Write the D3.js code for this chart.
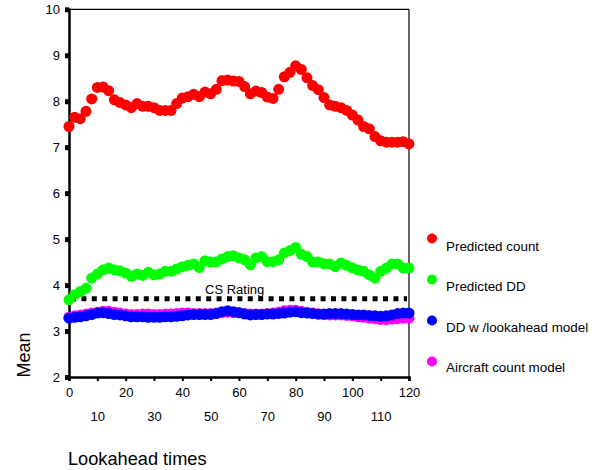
<!DOCTYPE html>
<html>
<head>
<meta charset="utf-8">
<script src="https://cdn.jsdelivr.net/npm/d3@7"></script>
<style>
  body { margin: 0; background: #fff; }
  text { font-family: Arial, "Liberation Sans", sans-serif; }
</style>
</head>
<body>
<script>
// lookahead times, every 2 units
var lookahead = d3.range(0, 121, 2);

var predCount = [7.45, 7.65, 7.62, 7.78, 8.05, 8.30, 8.31, 8.23, 8.03, 7.97,
  7.92, 7.86, 7.95, 7.89, 7.89, 7.86, 7.80, 7.80, 7.80, 7.95,
  8.07, 8.10, 8.15, 8.10, 8.20, 8.16, 8.26, 8.45, 8.46, 8.44,
  8.43, 8.32, 8.16, 8.22, 8.19, 8.09, 8.06, 8.26, 8.53, 8.63,
  8.77, 8.69, 8.51, 8.34, 8.25, 8.08, 7.92, 7.89, 7.86, 7.80,
  7.70, 7.59, 7.45, 7.40, 7.23, 7.14, 7.11, 7.11, 7.11, 7.12, 7.07];

var predDD = [3.68, 3.79, 3.86, 3.93, 4.15, 4.24, 4.33, 4.37, 4.33, 4.31,
  4.26, 4.19, 4.24, 4.21, 4.28, 4.22, 4.24, 4.30, 4.30, 4.35,
  4.40, 4.43, 4.46, 4.38, 4.53, 4.50, 4.50, 4.57, 4.62, 4.64,
  4.59, 4.55, 4.44, 4.59, 4.62, 4.51, 4.51, 4.55, 4.70, 4.75,
  4.82, 4.67, 4.62, 4.50, 4.50, 4.46, 4.46, 4.40, 4.48, 4.43,
  4.37, 4.33, 4.30, 4.22, 4.15, 4.30, 4.37, 4.46, 4.46, 4.37, 4.37];

var ddLookahead = [3.28, 3.30, 3.31, 3.33, 3.36, 3.39, 3.40, 3.38, 3.36, 3.35,
  3.33, 3.31, 3.31, 3.31, 3.30, 3.30, 3.30, 3.31, 3.31, 3.32,
  3.33, 3.35, 3.36, 3.36, 3.36, 3.36, 3.38, 3.42, 3.44, 3.42,
  3.40, 3.37, 3.35, 3.36, 3.36, 3.37, 3.37, 3.38, 3.39, 3.41,
  3.42, 3.40, 3.39, 3.38, 3.37, 3.37, 3.38, 3.38, 3.38, 3.37,
  3.36, 3.35, 3.35, 3.34, 3.33, 3.32, 3.33, 3.35, 3.38, 3.39, 3.39];

var aircraftCount = [3.30, 3.33, 3.35, 3.37, 3.39, 3.41, 3.43, 3.43, 3.41, 3.39,
  3.37, 3.36, 3.36, 3.37, 3.37, 3.36, 3.36, 3.37, 3.37, 3.38,
  3.39, 3.39, 3.38, 3.38, 3.38, 3.38, 3.39, 3.40, 3.41, 3.40,
  3.40, 3.38, 3.37, 3.37, 3.37, 3.38, 3.39, 3.41, 3.44, 3.45,
  3.45, 3.43, 3.41, 3.39, 3.37, 3.36, 3.35, 3.35, 3.35, 3.34,
  3.33, 3.31, 3.30, 3.28, 3.27, 3.25, 3.25, 3.26, 3.27, 3.28, 3.28];

var csRating = 3.7;
var yTicks = [2, 3, 4, 5, 6, 7, 8, 9, 10];
var xTicks = [0, 10, 20, 30, 40, 50, 60, 70, 80, 90, 100, 110, 120];

var seriesNames = ["Predicted count", "Predicted DD", "DD w /lookahead model", "Aircraft count model"];
var seriesColors = ["#ff0000", "#00ff00", "#0000ff", "#ff00ff"];
var seriesValues = [predCount, predDD, ddLookahead, aircraftCount];

var width = 604, height = 470;

var svg = d3.select("body").append("svg")
  .attr("width", width).attr("height", height);

var x = d3.scaleLinear().domain([0, 120]).range([69, 409]);
var y = d3.scaleLinear().domain([2, 10]).range([377, 9.3]);

// frame (top and right)
svg.append("line").attr("x1", x(0)).attr("x2", x(120)).attr("y1", y(10)).attr("y2", y(10))
  .attr("stroke", "#000").attr("stroke-width", 1.2);
svg.append("line").attr("x1", x(120)).attr("x2", x(120)).attr("y1", y(10)).attr("y2", y(2))
  .attr("stroke", "#000").attr("stroke-width", 1.2);

// y axis
var yAxis = svg.append("g").attr("transform", "translate(" + x(0) + ",0)")
  .call(d3.axisLeft(y).tickValues(yTicks).tickSize(4).tickPadding(5).tickFormat(d3.format("d")));
yAxis.select(".domain").attr("stroke-width", 2.5);
yAxis.selectAll(".tick line").attr("stroke-width", 5);
yAxis.selectAll(".tick text").style("font-size", "13px").attr("fill", "#000").attr("dy", "0.36em");

// x axis, labels alternate between two rows
var xAxis = svg.append("g").attr("transform", "translate(0," + y(2) + ")")
  .call(d3.axisBottom(x).tickValues(xTicks).tickSize(4).tickPadding(9).tickFormat(d3.format("d")));
xAxis.select(".domain").attr("stroke-width", 2.5);
xAxis.selectAll(".tick line").attr("stroke-width", 2);
xAxis.selectAll(".tick text").style("font-size", "13px").attr("fill", "#000")
  .attr("y", function (d) { return (d / 10) % 2 === 1 ? 35 : 11; });

// CS Rating reference line
svg.append("line")
  .attr("x1", x(0) + 2).attr("x2", x(120) - 2)
  .attr("y1", y(csRating)).attr("y2", y(csRating))
  .attr("stroke", "#000").attr("stroke-width", 5).attr("stroke-dasharray", "5,5.4");
svg.append("text").attr("x", 205).attr("y", y(csRating) - 5)
  .style("font-size", "13px").text("CS Rating");

// series, drawn back to front
var order = [0, 1, 3, 2];
order.forEach(function (k) {
  svg.append("g").selectAll("circle")
    .data(seriesValues[k])
    .join("circle")
    .attr("cx", function (d, i) { return x(lookahead[i]); })
    .attr("cy", function (d) { return y(d); })
    .attr("r", 5.5)
    .attr("fill", seriesColors[k]);
});

// legend
var legend = svg.append("g");
seriesNames.forEach(function (name, i) {
  legend.append("circle").attr("cx", 432).attr("cy", 238.5 + i * 41).attr("r", 5)
    .attr("fill", seriesColors[i]);
  legend.append("text").attr("x", 446).attr("y", 251 + i * 40.3)
    .style("font-size", "13.4px").text(name);
});

// axis titles
svg.append("text").attr("x", 68).attr("y", 465).style("font-size", "18.2px").text("Lookahead times");
svg.append("text").attr("transform", "translate(30,355) rotate(-90)")
  .attr("text-anchor", "middle").style("font-size", "18px").text("Mean");
</script>
</body>
</html>
